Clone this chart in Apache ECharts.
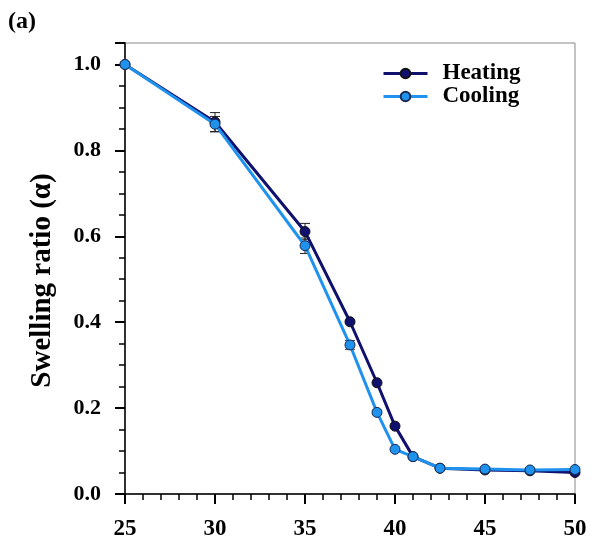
<!DOCTYPE html>
<html>
<head>
<meta charset="UTF-8">
<script src="https://cdn.jsdelivr.net/npm/echarts@6/dist/echarts.min.js"></script>
<style>
  html, body { margin: 0; padding: 0; background: #fff; }
  #chart { width: 592px; height: 546px; }
</style>
</head>
<body>
<div id="chart"></div>
<script>
// temperature (x) and swelling ratio values
var temps = [25, 30, 35, 37.5, 39, 40, 41, 42.5, 45, 47.5, 50];
var heating = [1.0, 0.866, 0.611, 0.401, 0.259, 0.158, 0.087, 0.06, 0.056, 0.054, 0.05];
var cooling = [1.0, 0.861, 0.578, 0.347, 0.19, 0.104, 0.087, 0.06, 0.058, 0.056, 0.057];
var heatingErr = [0, 0.022, 0.019, 0.004, 0, 0, 0, 0, 0, 0, 0];
var coolingErr = [0, 0.018, 0.018, 0.01, 0.005, 0, 0, 0, 0, 0, 0];
var xTicks = [25, 30, 35, 40, 45, 50];
var yTicks = [0, 0.2, 0.4, 0.6, 0.8, 1.0];

var heatColor = '#10106e';
var coolColor = '#1f92ee';
var serif = 'Liberation Serif';

var chart = echarts.init(document.getElementById('chart'));

function pairs(ys) {
  return temps.map(function (t, i) { return [t, ys[i]]; });
}
function errData(ys, es) {
  return temps.map(function (t, i) { return [t, ys[i] - es[i], ys[i] + es[i]]; });
}
function errRender(params, api) {
  var lo = api.coord([api.value(0), api.value(1)]);
  var hi = api.coord([api.value(0), api.value(2)]);
  if (Math.abs(hi[1] - lo[1]) < 1) return null;
  var w = 5;
  var st = { stroke: '#222', lineWidth: 1 };
  return {
    type: 'group',
    children: [
      { type: 'line', shape: { x1: lo[0], y1: lo[1], x2: hi[0], y2: hi[1] }, style: st },
      { type: 'line', shape: { x1: lo[0] - w, y1: lo[1], x2: lo[0] + w, y2: lo[1] }, style: st },
      { type: 'line', shape: { x1: hi[0] - w, y1: hi[1], x2: hi[0] + w, y2: hi[1] }, style: st }
    ]
  };
}

var option = {
  animation: false,
  graphic: [{
    type: 'text', left: 8, top: 10,
    style: { text: '(a)', font: 'bold 24px "Liberation Serif"', fill: '#000' }
  }],
  grid: { left: 125, right: 17, top: 43, bottom: 52, show: true, borderColor: '#888', borderWidth: 1 },
  legend: {
    orient: 'vertical', left: 377, top: 57, itemWidth: 44, itemHeight: 12, itemGap: 0,
    data: [
      { name: 'Heating', lineStyle: { width: 3 } },
      { name: 'Cooling', lineStyle: { width: 3 } }
    ],
    textStyle: { fontFamily: serif, fontWeight: 'bold', fontSize: 23, lineHeight: 20, color: '#000', padding: [0, 0, 0, 10] }
  },
  xAxis: {
    type: 'value', min: 25, max: 50, interval: 5,
    axisLine: { lineStyle: { color: '#000', width: 1.5 } },
    axisTick: { length: 10, lineStyle: { color: '#000', width: 2 } },
    minorTick: { show: true, splitNumber: 5, length: 6, lineStyle: { color: '#000', width: 1.5 } },
    splitLine: { show: false },
    axisLabel: {
      margin: 24, fontFamily: serif, fontWeight: 'bold', fontSize: 23, color: '#000',
      customValues: xTicks
    }
  },
  yAxis: [{
    type: 'value', min: 0, max: 1.05, interval: 0.05,
    name: 'Swelling ratio (\u03b1)', nameLocation: 'middle', nameGap: 68,
    nameTextStyle: { fontFamily: serif, fontWeight: 'bold', fontSize: 29, color: '#000', padding: [0, 24, 0, 0] },
    axisLine: { lineStyle: { color: '#000', width: 1.5 } },
    axisTick: { length: 6, lineStyle: { color: '#000', width: 1.5 } },
    splitLine: { show: false },
    axisLabel: {
      margin: 24, fontFamily: serif, fontWeight: 'bold', fontSize: 22, color: '#000',
      customValues: yTicks,
      formatter: function (v) { return v.toFixed(1); }
    }
  }, {
    type: 'value', min: 0, max: 1.05, interval: 0.2, position: 'left',
    axisLine: { show: false },
    axisTick: { length: 10, lineStyle: { color: '#000', width: 2 } },
    axisLabel: { show: false },
    splitLine: { show: false }
  }],
  series: [{
    name: 'Heating', type: 'line', data: pairs(heating), z: 3,
    symbol: 'circle', symbolSize: 10,
    lineStyle: { color: heatColor, width: 3 },
    itemStyle: { color: heatColor, borderColor: '#111', borderWidth: 1 }
  }, {
    name: 'Cooling', type: 'line', data: pairs(cooling), z: 4,
    symbol: 'circle', symbolSize: 10,
    lineStyle: { color: coolColor, width: 3 },
    itemStyle: { color: coolColor, borderColor: '#1a2a50', borderWidth: 1 }
  }, {
    type: 'custom', data: errData(heating, heatingErr), renderItem: errRender, z: 2,
    encode: { x: 0, y: [1, 2] }
  }, {
    type: 'custom', data: errData(cooling, coolingErr), renderItem: errRender, z: 2,
    encode: { x: 0, y: [1, 2] }
  }]
};
chart.setOption(option);
</script>
</body>
</html>
